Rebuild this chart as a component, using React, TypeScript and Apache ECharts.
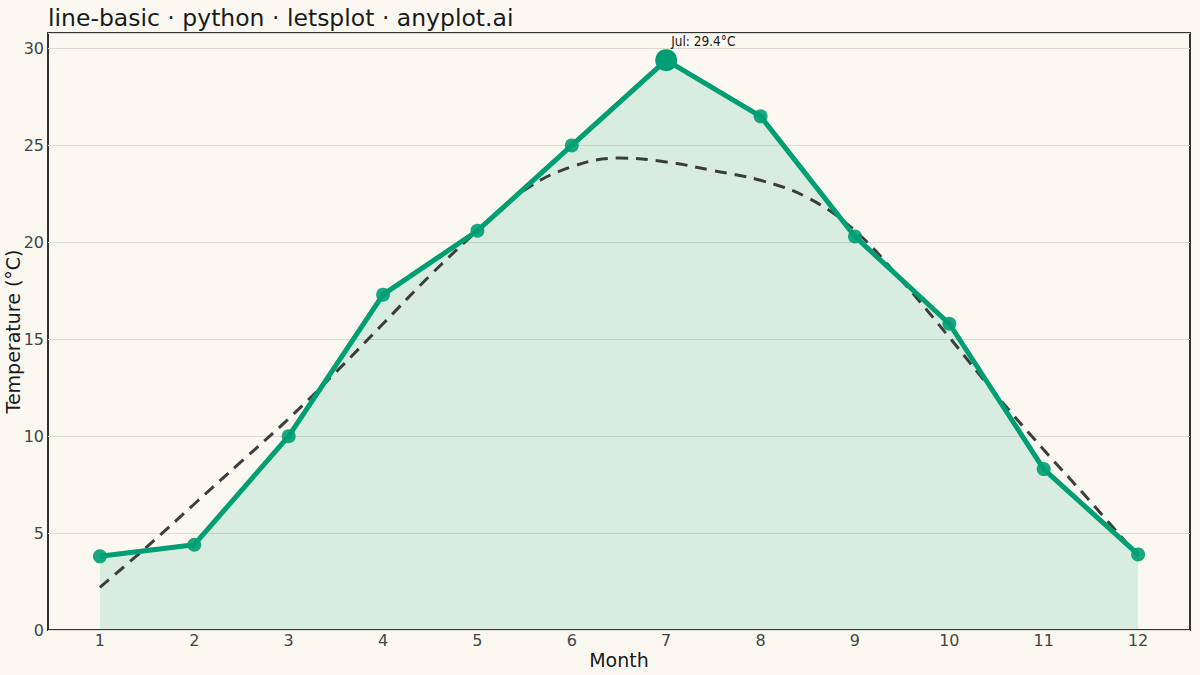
import React, { useEffect, useRef } from "react";
import * as echarts from "echarts";

const months = [1, 2, 3, 4, 5, 6, 7, 8, 9, 10, 11, 12];
const temps = [3.8, 4.4, 10.0, 17.3, 20.6, 25.0, 29.4, 26.5, 20.3, 15.8, 8.3, 3.9];

const trendX = [1, 1.5, 2, 2.5, 3, 3.5, 4, 4.5, 5, 5.5, 6, 6.5, 7, 7.5, 8, 8.5, 9, 9.5, 10, 10.5, 11, 11.5, 12];
const trendY = [2.2, 4.3, 6.5, 8.7, 10.9, 13.3, 15.8, 18.3, 20.6, 22.7, 23.9, 24.35, 24.15, 23.7, 23.2, 22.3, 20.6, 18.0, 15.1, 12.1, 9.3, 6.6, 3.8];

const yTicks = [0, 5, 10, 15, 20, 25, 30];
const peakLabel = "Jul: 29.4°C";

const GREEN = "#009E73";
const BG = "#FAF8F1";
const FONT = "DejaVu Sans, sans-serif";

const App = () => {
  const chartRef = useRef<HTMLDivElement>(null);

  useEffect(() => {
    document.body.style.margin = "0";
    const chart = echarts.init(chartRef.current, null, { renderer: "svg" });

    const linePts = months.map((m, i) => [m, temps[i]]);
    const peakIdx = temps.indexOf(Math.max(...temps));

    const option = {
      animation: false,
      backgroundColor: BG,
      textStyle: { fontFamily: FONT },
      title: {
        text: "line-basic · python · letsplot · anyplot.ai",
        left: 43,
        top: 1,
        textStyle: { fontSize: 23.5, fontWeight: "normal", color: "#1a1a1a", fontFamily: FONT }
      },
      grid: {
        left: 48,
        right: 10,
        top: 33,
        bottom: 45,
        outerBoundsMode: "none",
        containLabel: false,
        show: true,
        borderColor: "#333",
        borderWidth: 2,
        backgroundColor: "transparent"
      },
      xAxis: {
        type: "value",
        min: 0.45,
        max: 12.55,
        name: "Month",
        nameLocation: "middle",
        nameGap: 20,
        nameMoveOverlap: false,
        nameTextStyle: { fontSize: 19, color: "#1a1a1a", fontFamily: FONT, verticalAlign: "top" },
        axisLine: { show: false },
        axisTick: { show: false },
        splitLine: { show: false },
        axisLabel: {
          customValues: months,
          color: "#444",
          fontSize: 16,
          margin: 2,
          fontFamily: FONT
        }
      },
      yAxis: {
        type: "value",
        min: 0,
        max: 30.8,
        name: "Temperature (°C)",
        nameLocation: "middle",
        nameGap: 26,
        nameMoveOverlap: false,
        nameTextStyle: { fontSize: 19, color: "#1a1a1a", fontFamily: FONT },
        axisLine: { show: false },
        axisTick: { show: false },
        axisLabel: {
          customValues: yTicks,
          color: "#444",
          fontSize: 16,
          margin: 4,
          fontFamily: FONT
        },
        splitLine: { lineStyle: { color: "#dedbd3", width: 1 } }
      },
      series: [
        {
          name: "area",
          type: "line",
          data: linePts,
          symbol: "none",
          lineStyle: { width: 0 },
          areaStyle: { color: "rgba(0,158,115,0.19)", origin: "start" },
          z: 1
        },
        {
          name: "trend",
          type: "line",
          data: trendX.map((x, i) => [x, trendY[i]]),
          smooth: 0.4,
          symbol: "none",
          lineStyle: { color: "#3d3d3d", width: 3, type: [12, 8] },
          z: 2
        },
        {
          name: "temp",
          type: "line",
          data: linePts,
          symbol: "circle",
          symbolSize: 14,
          showAllSymbol: true,
          lineStyle: { color: GREEN, width: 5 },
          itemStyle: { color: "rgba(0,158,115,0.9)" },
          z: 3
        },
        {
          name: "peak",
          type: "scatter",
          data: [linePts[peakIdx]],
          symbolSize: 22,
          itemStyle: { color: GREEN, opacity: 1 },
          label: {
            show: true,
            formatter: peakLabel,
            position: [16, -15],
            color: "#1a1a1a",
            fontSize: 13.5,
            fontFamily: "DejaVu Sans Condensed, DejaVu Sans, sans-serif"
          },
          z: 4
        }
      ]
    };

    chart.setOption(option);

    const handleResize = () => chart.resize();
    window.addEventListener("resize", handleResize);

    return () => {
      window.removeEventListener("resize", handleResize);
      chart.dispose();
    };
  }, []);

  return <div ref={chartRef} style={{ width: 1200, height: 675 }} />;
};

export default App;
